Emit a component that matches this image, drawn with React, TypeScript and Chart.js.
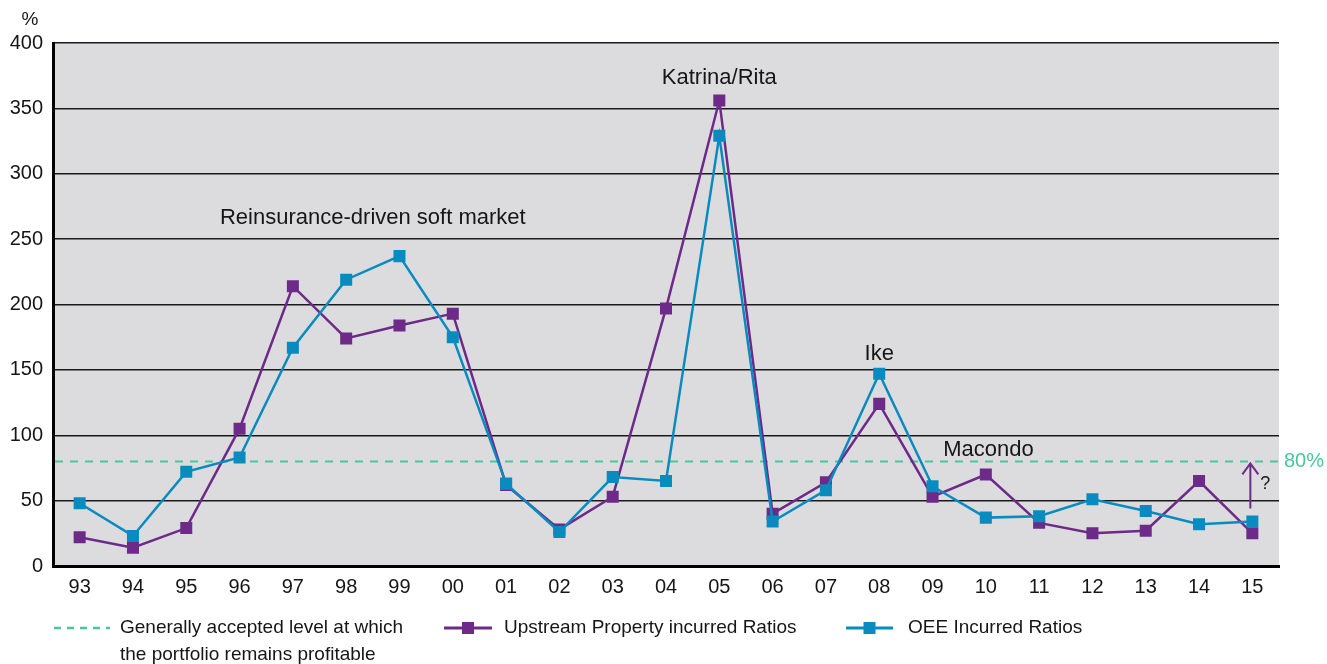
import React, { useEffect, useRef } from 'react';
import { Chart, registerables } from 'chart.js';

Chart.register(...registerables);

const YEARS = ['93', '94', '95', '96', '97', '98', '99', '00', '01', '02', '03', '04', '05', '06', '07', '08', '09', '10', '11', '12', '13', '14', '15'];
const UPSTREAM = [22, 14, 29, 105, 214, 174, 184, 193, 62, 28, 53, 197, 356, 40, 64, 124, 53, 70, 33, 25, 27, 65, 25];
const OEE = [48, 23, 72, 83, 167, 219, 237, 175, 63, 26, 68, 65, 329, 34, 58, 147, 61, 37, 38, 51, 42, 32, 34];
const PROFIT_LEVEL = 80;
const Y_MIN = 0;
const Y_MAX = 400;
const Y_STEP = 50;

const LABEL_UPSTREAM = 'Upstream Property incurred Ratios';
const LABEL_OEE = 'OEE Incurred Ratios';
const LABEL_LEVEL = ['Generally accepted level at which', 'the portfolio remains profitable'];

// annotation labels: text, category position (index, may be fractional), value position
const ANNOTATION_TEXT = ['Reinsurance-driven soft market', 'Katrina/Rita', 'Ike', 'Macondo'];
const ANNOTATION_CAT = [5.5, 12, 15, 17.05];
const ANNOTATION_VAL = [266, 373, 162, 89];

const PURPLE = '#6d2a88';
const BLUE = '#0a8bc0';
const GREEN = '#4cc59c';
const FONT = '"Liberation Sans", Arial, sans-serif';
const TEXT = '#161616';

const catPx = (xs: any, v: number) => {
  const i = Math.floor(v);
  const f = v - i;
  const a = xs.getPixelForValue(i);
  if (f === 0) return a;
  const b = xs.getPixelForValue(i + 1);
  return a + (b - a) * f;
};

const decorPlugin = {
  id: 'decor',
  beforeDraw(chart: any) {
    const { ctx, chartArea } = chart;
    ctx.save();
    ctx.fillStyle = '#ffffff';
    ctx.fillRect(0, 0, chart.width, chart.height);
    ctx.fillStyle = '#dcdcde';
    ctx.fillRect(chartArea.left, chartArea.top, chartArea.right - chartArea.left, chartArea.bottom - chartArea.top);
    ctx.restore();
  },
  beforeDatasetsDraw(chart: any) {
    const { ctx, chartArea, scales } = chart;
    const y = scales.y.getPixelForValue(PROFIT_LEVEL);
    ctx.save();
    ctx.strokeStyle = GREEN;
    ctx.lineWidth = 2;
    ctx.setLineDash([8, 7]);
    ctx.beginPath();
    ctx.moveTo(chartArea.left + 2, y);
    ctx.lineTo(chartArea.right, y);
    ctx.stroke();
    ctx.restore();
  },
  afterDatasetsDraw(chart: any) {
    const { ctx, chartArea, scales } = chart;
    const xs = scales.x;
    const ys = scales.y;
    ctx.save();
    ctx.fillStyle = TEXT;
    ctx.font = `22px ${FONT}`;
    ctx.textAlign = 'center';
    ctx.textBaseline = 'middle';
    ANNOTATION_TEXT.forEach((t, i) => {
      ctx.fillText(t, catPx(xs, ANNOTATION_CAT[i]), ys.getPixelForValue(ANNOTATION_VAL[i]));
    });

    // "%" unit label
    ctx.font = `19px ${FONT}`;
    ctx.textAlign = 'center';
    ctx.fillText('%', 30, 20);

    // 80% label
    const yl = ys.getPixelForValue(PROFIT_LEVEL);
    ctx.fillStyle = GREEN;
    ctx.font = `20px ${FONT}`;
    ctx.textAlign = 'left';
    ctx.fillText(PROFIT_LEVEL + '%', chartArea.right + 5, yl);

    // arrow with question mark at last category
    const last = YEARS.length - 1;
    const ax = xs.getPixelForValue(last) - 2;
    const yTop = yl + 2;
    const yBot = ys.getPixelForValue(44);
    ctx.strokeStyle = PURPLE;
    ctx.lineWidth = 2;
    ctx.beginPath();
    ctx.moveTo(ax, yBot);
    ctx.lineTo(ax, yTop);
    ctx.moveTo(ax - 8, yTop + 11);
    ctx.lineTo(ax, yTop);
    ctx.lineTo(ax + 8, yTop + 11);
    ctx.stroke();
    ctx.fillStyle = TEXT;
    ctx.font = `18px ${FONT}`;
    ctx.textAlign = 'left';
    ctx.fillText('?', ax + 10, ys.getPixelForValue(63));

    // legend
    const ly = 628;
    ctx.font = `19px ${FONT}`;
    ctx.textBaseline = 'middle';
    ctx.textAlign = 'left';
    // dashed
    ctx.strokeStyle = GREEN;
    ctx.lineWidth = 2.5;
    ctx.setLineDash([7, 6]);
    ctx.beginPath();
    ctx.moveTo(54, ly);
    ctx.lineTo(110, ly);
    ctx.stroke();
    ctx.setLineDash([]);
    ctx.fillStyle = TEXT;
    ctx.fillText(LABEL_LEVEL[0], 120, ly);
    ctx.fillText(LABEL_LEVEL[1], 120, ly + 27);

    const drawSample = (x0: number, x1: number, color: string, label: string, tx: number) => {
      ctx.strokeStyle = color;
      ctx.lineWidth = 3;
      ctx.beginPath();
      ctx.moveTo(x0, ly);
      ctx.lineTo(x1, ly);
      ctx.stroke();
      ctx.fillStyle = color;
      const cx = (x0 + x1) / 2;
      ctx.fillRect(cx - 6, ly - 6, 12, 12);
      ctx.fillStyle = TEXT;
      ctx.fillText(label, tx, ly);
    };
    drawSample(444, 492, PURPLE, LABEL_UPSTREAM, 504);
    drawSample(846, 893, BLUE, LABEL_OEE, 908);
    ctx.restore();
  },
};

export default function App() {
  const ref = useRef<HTMLCanvasElement | null>(null);
  useEffect(() => {
    if (!ref.current) return;
    const chart = new Chart(ref.current, {
      type: 'line',
      data: {
        labels: YEARS,
        datasets: [
          {
            label: LABEL_OEE,
            data: OEE,
            borderColor: BLUE,
            backgroundColor: BLUE,
            borderWidth: 2.5,
            pointStyle: 'rect',
            pointRadius: 8.5,
            pointHoverRadius: 8.5,
            pointBorderWidth: 0,
            tension: 0,
          },
          {
            label: LABEL_UPSTREAM,
            data: UPSTREAM,
            borderColor: PURPLE,
            backgroundColor: PURPLE,
            borderWidth: 2.5,
            pointStyle: 'rect',
            pointRadius: 8.5,
            pointHoverRadius: 8.5,
            pointBorderWidth: 0,
            tension: 0,
          },
        ],
      },
      options: {
        responsive: false,
        animation: false,
        layout: { padding: { top: 43, right: 48, bottom: 0, left: 0 } },
        plugins: {
          legend: { display: false },
          tooltip: { enabled: false },
        },
        scales: {
          x: {
            type: 'category',
            offset: true,
            grid: { display: false, drawTicks: false },
            border: { display: true, color: '#000', width: 3 },
            ticks: { color: TEXT, font: { family: FONT, size: 20 }, padding: 9, maxRotation: 0, autoSkip: false },
            afterFit: (s: any) => { s.height = 98; },
          },
          y: {
            min: Y_MIN,
            max: Y_MAX,
            ticks: { stepSize: Y_STEP, color: TEXT, font: { family: FONT, size: 20 }, padding: 10 },
            grid: { color: '#1a1a1a', lineWidth: 1.5, drawTicks: false },
            border: { display: true, color: '#000', width: 3 },
            afterFit: (s: any) => { s.width = 53; },
          },
        },
      },
      plugins: [decorPlugin],
    });
    return () => chart.destroy();
  }, []);
  return (
    <div style={{ position: 'absolute', left: 0, top: 0, width: 1327, height: 664, background: '#fff' }}>
      <canvas ref={ref} width={1327} height={664} style={{ display: 'block' }} />
    </div>
  );
}
